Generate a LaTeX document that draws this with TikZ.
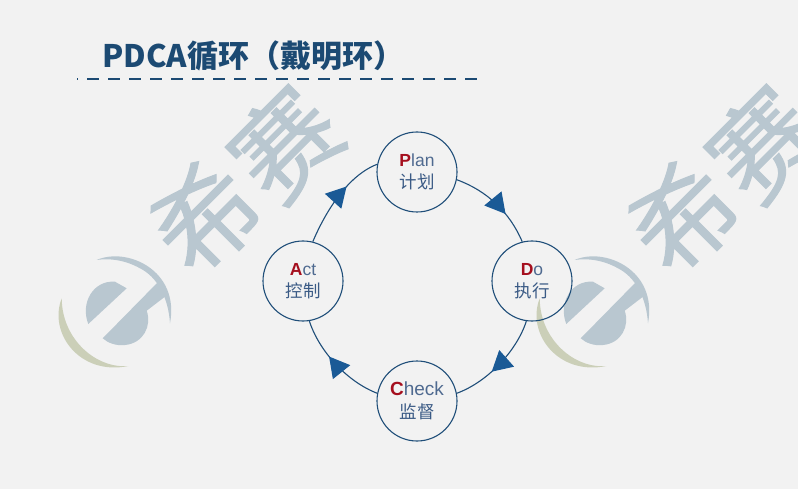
\documentclass[tikz,border=0pt]{standalone}
\usepackage{fontspec}
\setmainfont{Liberation Sans}
\newfontfamily\cjk{Noto Sans CJK SC}
\newfontfamily\cjkmark[FakeBold=1]{Noto Sans CJK SC}
\usetikzlibrary{arrows.meta,decorations.markings}
\definecolor{pagegray}{HTML}{F2F2F2}
\definecolor{titleblue}{HTML}{1C4A73}
\definecolor{ringblue}{HTML}{1F4E79}
\definecolor{tipblue}{HTML}{1A5A96}
\definecolor{labelblue}{HTML}{3A5A85}
\definecolor{latinblue}{HTML}{4F6A90}
\definecolor{initialred}{HTML}{A50F1E}
\definecolor{markgray}{HTML}{B9C7D0}
\definecolor{markolive}{HTML}{CBCFB8}
\tikzset{
  pdcanode/.style={draw=ringblue, line width=1.1pt, circle, minimum size=80pt, inner sep=0pt, align=center, text=latinblue, font=\fontsize{17.5}{22}\selectfont},
  flowline/.style={draw=ringblue, line width=1.1pt, postaction={decorate}, decoration={markings, mark=at position #1 with {\arrow[tipblue]{Triangle[length=20pt,width=22pt]}}}},
  markchar/.style={text=markgray, rotate=45, font=\fontsize{104}{104}\selectfont\cjkmark}
}
\newcommand{\firstletter}[1]{\textcolor{initialred}{\textbf{#1}}}
\newcommand{\cnlabel}[1]{{\cjk\color{labelblue}\fontsize{17.5}{20}\selectfont #1}}
\begin{document}
\begin{tikzpicture}[x=1pt,y=-1pt]
\useasboundingbox (0,0) rectangle (798,489);
\clip (0,0) rectangle (798,489);
\fill[pagegray] (0,0) rectangle (798,489);
% watermark
\foreach \dx/\nm in {0/a,478/b} {
  \begin{scope}[xshift=\dx pt]
    \fill[markolive] (61.7,298.3) .. controls (48,333.3) and (80,376) .. (128.3,366) .. controls (97,369) and (62,340) .. (61.7,298.3) -- cycle;
    \fill[markgray] (96.7,260) .. controls (126.7,246.7) and (180,270) .. (170,323.3) .. controls (168.3,296.7) and (156.7,276.7) .. (140,268.3) .. controls (125,260) and (110,258) .. (96.7,260) -- cycle;
    \fill[markgray] (88.3,324) .. controls (80,303) and (93.3,280) .. (115,281.7) -- (126.7,288.3) -- cycle;
    \fill[markgray] (102.7,338.3) -- (160,280) -- (165,296.7) -- (146.7,310.7) .. controls (152,326) and (143.3,343.3) .. (125,345) .. controls (116,346) and (108,343) .. (102.7,338.3) -- cycle;
    \node[markchar] (xi\nm) at (205,217) {希};
    \node[markchar] (sai\nm) at (285,144) {赛};
  \end{scope}
}
% title
\node[anchor=west, text=titleblue, font=\fontsize{31}{31}\selectfont\cjk\bfseries, inner sep=0pt] (title) at (102,56) {PDCA循环（戴明环）};
\coordinate (rulea) at (77,79);
\coordinate (ruleb) at (478,79);
\draw[titleblue, line width=2.5pt, dash pattern=on 12pt off 9pt, dash phase=11pt] (rulea) -- (ruleb);
% cycle
\node[pdcanode] (plan) at (417,172) {\firstletter{P}lan\\[0pt]\cnlabel{计划}};
\node[pdcanode] (do) at (532,281) {\firstletter{D}o\\[0pt]\cnlabel{执行}};
\node[pdcanode, font=\fontsize{19}{23}\selectfont] (check) at (417,401) {\firstletter{C}heck\\[0pt]\cnlabel{监督}};
\node[pdcanode] (act) at (303,281) {\firstletter{A}ct\\[0pt]\cnlabel{控制}};
\draw[flowline=0.65] (plan.-11) .. controls +(-20:32pt) and +(113:32pt) .. (do.104);
\draw[flowline=0.6] (do.-98) .. controls +(-108:32pt) and +(20:32pt) .. (check.11);
\draw[flowline=0.6] (check.169) .. controls +(159:32pt) and +(-72:32pt) .. (act.-81.5);
\draw[flowline=0.63] (act.76) .. controls +(67:32pt) and +(201:32pt) .. (plan.169);
\end{tikzpicture}
\end{document}
